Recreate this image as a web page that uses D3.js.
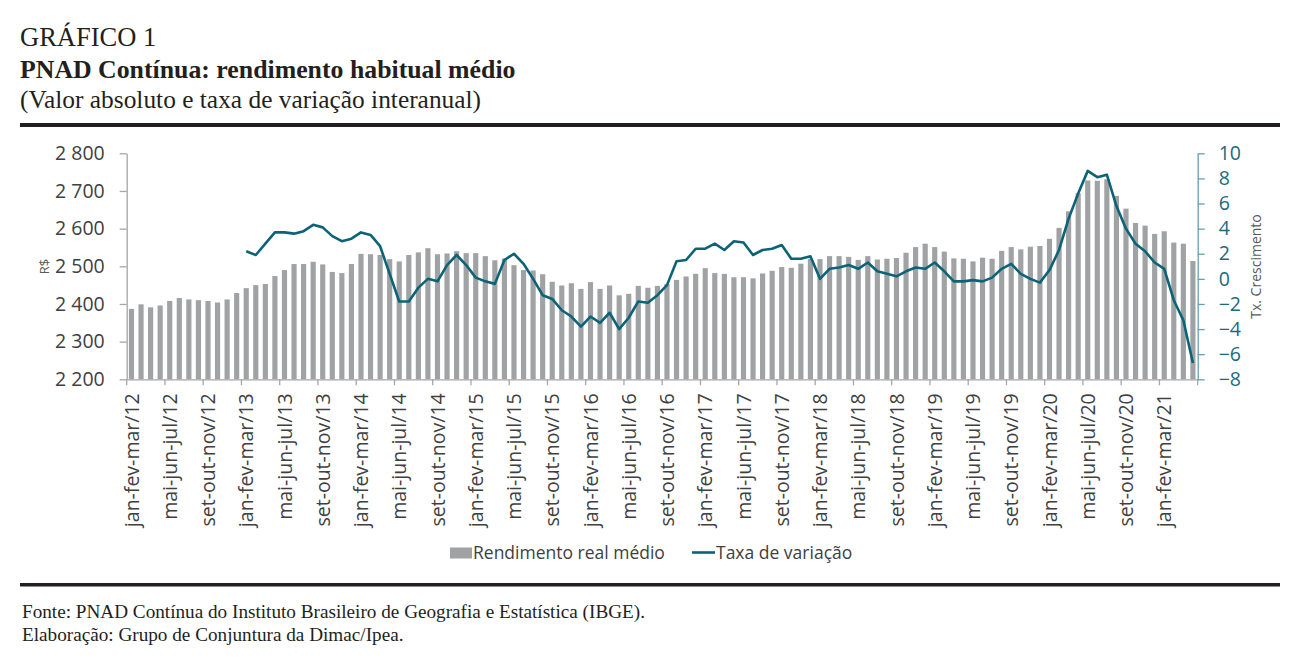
<!DOCTYPE html>
<html>
<head>
<meta charset="utf-8">
<script src="https://cdn.jsdelivr.net/npm/d3@7"></script>
<style>
  body { margin: 0; background: #fff; }
  .serif { font-family: "Liberation Serif", "Times New Roman", serif; fill: #231f20; }
  .sans { font-family: "Open Sans", "Noto Sans", sans-serif; }
</style>
</head>
<body>
<div id="chart"></div>
<script>
// trimestres móveis: jan-fev-mar/12 ... abr-mai-jun/21
const meses = ["jan","fev","mar","abr","mai","jun","jul","ago","set","out","nov","dez"];
const anoInicial = 12;
const nTrimestres = 112;

// Rendimento real médio (R$)
const rendimento = [
  2387, 2399, 2391, 2396, 2408, 2416, 2412, 2410, 2408, 2404, 2412, 2429,
  2442, 2450, 2453, 2474, 2490, 2506, 2506, 2512, 2505, 2485, 2482, 2506,
  2533, 2532, 2530, 2519, 2513, 2530, 2537, 2548, 2532, 2534, 2540, 2535,
  2535, 2527, 2516, 2521, 2503, 2490, 2489, 2479, 2459, 2449, 2455, 2440,
  2458, 2440, 2449, 2423, 2427, 2448, 2443, 2448, 2453, 2464, 2473, 2480,
  2495, 2482, 2480, 2471, 2471, 2468, 2481, 2488, 2498, 2496, 2507, 2520,
  2519, 2527, 2527, 2525, 2517, 2527, 2518, 2520, 2522, 2536, 2551, 2560,
  2551, 2539, 2521, 2520, 2513, 2523, 2520, 2541, 2551, 2545, 2552, 2554,
  2573, 2602, 2646, 2694, 2728, 2727, 2731, 2687, 2653, 2615, 2608, 2586,
  2593, 2563, 2560, 2514
];

// Taxa de variação interanual (%), começa em jan-fev-mar/13
const taxa = [
  null, null, null, null, null, null, null, null, null, null, null, null,
  2.2, 1.9, 2.8, 3.7, 3.7, 3.6, 3.8, 4.3, 4.1, 3.4, 3.0, 3.2,
  3.7, 3.5, 2.6, 0.4, -1.8, -1.8, -0.7, 0.0, -0.2, 1.1, 1.9, 1.1,
  0.1, -0.2, -0.4, 1.5, 2.0, 1.2, 0.0, -1.3, -1.6, -2.5, -3.0, -3.8,
  -3.0, -3.5, -2.7, -4.0, -3.1, -1.8, -1.9, -1.3, -0.5, 1.4, 1.5, 2.4,
  2.4, 2.8, 2.3, 3.0, 2.9, 1.9, 2.3, 2.4, 2.7, 1.6, 1.6, 1.8,
  0.0, 0.8, 0.9, 1.1, 0.8, 1.3, 0.6, 0.4, 0.2, 0.6, 0.9, 0.8,
  1.3, 0.6, -0.2, -0.2, -0.1, -0.2, 0.1, 0.8, 1.2, 0.4, 0.0, -0.3,
  0.7, 2.3, 4.8, 6.8, 8.6, 8.1, 8.3, 5.8, 4.0, 2.8, 2.2, 1.3,
  0.8, -1.7, -3.3, -6.7
];

const yEsqTicks = [2200, 2300, 2400, 2500, 2600, 2700, 2800];
const yDirTicks = [-8, -6, -4, -2, 0, 2, 4, 6, 8, 10];

const categorias = d3.range(nTrimestres).map(i => {
    let m = i % 12;
    let ano = anoInicial + Math.floor(i / 12);
    return `${meses[m]}-${meses[(m+1)%12]}-${meses[(m+2)%12]}/${ano}`;
});
const dados = categorias.map((c,i) => ({cat: c, rend: rendimento[i], tx: taxa[i]}));

const W = 1292, H = 660;
const margin = {top: 153.3, right: 94.3, bottom: 280.7, left: 126.7};
const width = W - margin.left - margin.right;
const height = H - margin.top - margin.bottom;

const svg = d3.select("#chart").append("svg")
    .attr("width", W).attr("height", H);

// título
svg.append("text").attr("class","serif").attr("x",20).attr("y",46)
    .attr("font-size",26.5).text("GRÁFICO 1");
svg.append("text").attr("class","serif").attr("x",20).attr("y",77.5)
    .attr("font-size",25.8).attr("font-weight","bold").text("PNAD Contínua: rendimento habitual médio");
svg.append("text").attr("class","serif").attr("x",20).attr("y",107.5)
    .attr("font-size",25.4).text("(Valor absoluto e taxa de variação interanual)");
svg.append("rect").attr("x",20).attr("y",123).attr("width",1260).attr("height",4).attr("fill","#231f20");

// rodapé
svg.append("rect").attr("x",20).attr("y",583).attr("width",1260).attr("height",3.5).attr("fill","#231f20");
svg.append("text").attr("class","serif").attr("x",22).attr("y",617.5)
    .attr("font-size",19.2).text("Fonte: PNAD Contínua do Instituto Brasileiro de Geografia e Estatística (IBGE).");
svg.append("text").attr("class","serif").attr("x",22).attr("y",641)
    .attr("font-size",19.2).text("Elaboração: Grupo de Conjuntura da Dimac/Ipea.");

const g = svg.append("g").attr("transform", `translate(${margin.left},${margin.top})`);

const x = d3.scaleBand().domain(categorias).range([0, width])
    .paddingInner(0.46).paddingOuter(0.23);
const yEsq = d3.scaleLinear().domain([2200, 2800]).range([height, 0]);
const yDir = d3.scaleLinear().domain([-8, 10]).range([height, 0]);

const fmt = d3.formatLocale({decimal: ",", thousands: " ", grouping: [3], currency: ["R$", ""]}).format(",");

// barras
g.selectAll(".bar").data(dados).join("rect")
    .attr("class","bar")
    .attr("x", d => x(d.cat))
    .attr("width", x.bandwidth())
    .attr("y", d => yEsq(d.rend))
    .attr("height", d => height - yEsq(d.rend))
    .attr("fill", "#a0a2a3");

// eixo x
const gx = g.append("g").attr("transform", `translate(0,${height})`)
    .call(d3.axisBottom(x)
        .tickValues(categorias.filter((c,i) => i % 4 === 0))
        .tickSize(0).tickSizeOuter(0));
gx.select(".domain").attr("stroke","#a6a6a6").attr("stroke-width",1.3);
gx.selectAll(".tick text")
    .attr("class","sans")
    .attr("font-size",19.5)
    .attr("fill","#404040")
    .attr("transform","rotate(-90)")
    .attr("text-anchor","end")
    .attr("x",-14).attr("y",0).attr("dy","0.36em");
// marcas entre categorias, a cada 4
gx.selectAll(".sep").data(d3.range(0, nTrimestres + 1, 4)).join("line")
    .attr("class","sep")
    .attr("x1", i => i * x.step()).attr("x2", i => i * x.step())
    .attr("y1", 0).attr("y2", 6)
    .attr("stroke","#a6a6a6").attr("stroke-width",1.3);

// eixo esquerdo
const gy = g.append("g")
    .call(d3.axisLeft(yEsq).tickValues(yEsqTicks).tickFormat(fmt)
        .tickSize(7).tickSizeOuter(0).tickPadding(15));
gy.selectAll("line, .domain").attr("stroke","#a6a6a6").attr("stroke-width",1.3);
gy.selectAll("text").attr("class","sans").attr("font-size",19.5).attr("fill","#404040");

// eixo direito
const gy2 = g.append("g").attr("transform", `translate(${width},0)`)
    .call(d3.axisRight(yDir).tickValues(yDirTicks)
        .tickSize(7).tickSizeOuter(0).tickPadding(14));
gy2.selectAll("line, .domain").attr("stroke","#62a1b0").attr("stroke-width",1.3);
gy2.selectAll("text").attr("class","sans").attr("font-size",19.5).attr("fill","#1a6a80");

// títulos dos eixos
svg.append("text").attr("class","sans")
    .attr("transform","translate(49,266.5) rotate(-90)")
    .attr("text-anchor","middle").attr("font-size",13).attr("fill","#595959").text("R$");
svg.append("text").attr("class","sans")
    .attr("transform","translate(1261,266.5) rotate(-90)")
    .attr("text-anchor","middle").attr("font-size",14).attr("fill","#595959").text("Tx. Crescimento");

// linha da taxa
const line = d3.line()
    .defined(d => d.tx !== null)
    .x(d => x(d.cat) + x.bandwidth() / 2)
    .y(d => yDir(d.tx));
g.append("path").datum(dados)
    .attr("fill","none")
    .attr("stroke","#0b6378")
    .attr("stroke-width",2.6)
    .attr("stroke-linejoin","round")
    .attr("d", line);

// legenda
const leg = svg.append("g").attr("class","sans").attr("font-size",17.5).attr("fill","#404040");
leg.append("rect").attr("x",450).attr("y",547.5).attr("width",22).attr("height",11).attr("fill","#a0a2a3");
leg.append("text").attr("x",473).attr("y",558.5).text("Rendimento real médio");
leg.append("line").attr("x1",692).attr("x2",715).attr("y1",552.5).attr("y2",552.5)
    .attr("stroke","#0b6378").attr("stroke-width",2.6);
leg.append("text").attr("x",716).attr("y",558.5).text("Taxa de variação");
</script>
</body>
</html>
